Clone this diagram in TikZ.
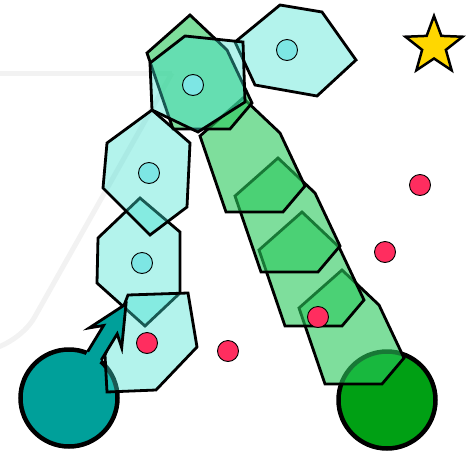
\documentclass[tikz,border=0pt]{standalone}
\usetikzlibrary{shapes.geometric}
\definecolor{cellc}{RGB}{64,224,208}
\definecolor{gcellc}{RGB}{40,200,90}
\definecolor{tealc}{RGB}{0,160,154}
\definecolor{grassc}{RGB}{0,160,20}
\definecolor{berryc}{RGB}{255,45,95}
\definecolor{corec}{RGB}{125,230,228}
\definecolor{starc}{RGB}{255,215,0}

\begin{document}
\begin{tikzpicture}[x=1pt,y=-1pt,
  cell/.style={draw,line width=2.8pt,fill=cellc,fill opacity=0.4},
  gcell/.style={draw,line width=2.8pt,fill=gcellc,fill opacity=0.6},
  ball/.style={circle,draw,line width=4.5pt,minimum size=97pt,inner sep=0pt},
  core/.style={circle,draw,line width=0.9pt,fill=corec,minimum size=21pt,inner sep=0pt},
  berry/.style={circle,draw,line width=0.9pt,fill=berryc,minimum size=21pt,inner sep=0pt},
  trail/.style={line width=5pt,black!5},
  pointer/.style={line width=2.8pt,line join=miter}
]
\useasboundingbox (0,0) rectangle (466,453);
\clip (0,0) rectangle (466,453);
\draw[trail] (-10,73) -- (172,73);
\draw[trail,rounded corners=40pt] (172,73) -- (15,352) -- (-60,352);

\node[ball,fill=tealc] (teal) at (69,398) {};
\node[ball,fill=grassc] (grass) at (387,400) {};

\foreach \x/\y in {342/270,302/212,278/158,243/98,190/15}
  \draw[gcell] (\x,\y) -- ++(37,35) -- ++(25,53) -- ++(-22,26) -- ++(-57,0) -- ++(-26,-76) -- cycle;

\draw[cell] (280,5) -- (322,12) -- (356,60) -- (317,96) -- (255,85) -- (235,42) -- cycle;
\draw[cell] (140,198) -- (180,232) -- (180,293) -- (145,326) -- (97,283) -- (98,238) -- cycle;
\draw[cell] (185,36) -- (243,42) -- (245,102) -- (198,132) -- (152,110) -- (150,63) -- cycle;
\draw[cell] (152,110) -- (190,143) -- (187,207) -- (150,235) -- (103,188) -- (107,143) -- cycle;
\draw[cell] (128,295) -- (188,293) -- (197,347) -- (156,390) -- (107,392) -- (105,355) -- cycle;

\node[core] (c1) at (287,50) {};
\node[core] (c2) at (193,85) {};
\node[core] (c3) at (149,173) {};
\node[core] (c4) at (142,263) {};

\node[berry] (b1) at (420,185) {};
\node[berry] (b2) at (385,252) {};
\node[berry] (b3) at (318,317) {};
\node[berry] (b4) at (228,351) {};
\node[berry] (b5) at (147,343) {};

\node[star,star points=5,star point ratio=2.4,minimum size=60pt,inner sep=0pt,
  draw,line width=2.5pt,fill=starc] (goal) at (434,46) {};

\coordinate (tip) at (126,304);
\fill[tealc] (77.7,368.2) -- (103.6,325.5) -- (89.3,327.9) -- (tip) -- (121.7,347.7) -- (117.2,333.9) -- (91.3,376.6) -- cycle;
\draw[pointer] (87.7,351.6) -- (103.6,325.5) -- (89.3,327.9) -- (tip) -- (121.7,347.7) -- (117.2,333.9) -- (101.3,360.0);
\end{tikzpicture}
\end{document}
